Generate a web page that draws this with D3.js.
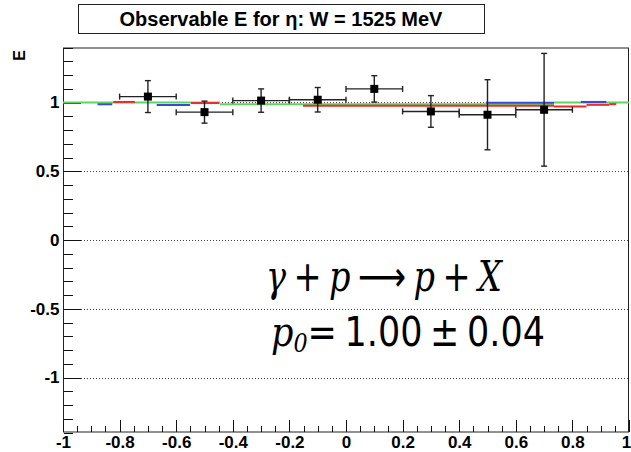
<!DOCTYPE html>
<html>
<head>
<meta charset="utf-8">
<script src="https://cdn.jsdelivr.net/npm/d3@7"></script>
<style>
  body { margin: 0; background: #fff; }
  svg { display: block; }
</style>
</head>
<body>
<svg id="chart" width="631" height="452"></svg>
<script>
// measured points (cos theta bins)
let xVals = [-0.7, -0.5, -0.3, -0.1, 0.1, 0.3, 0.5, 0.7];
let eVals = [1.043, 0.930, 1.014, 1.020, 1.099, 0.935, 0.911, 0.947];
let eErr  = [0.116, 0.080, 0.085, 0.089, 0.096, 0.115, 0.255, 0.41];
let xErr  = [0.1, 0.1, 0.1, 0.1, 0.1, 0.1, 0.1, 0.1];

// model curves as [x0, x1, E] pieces
let greenSeg = [[-1, -0.445, 1.0], [-0.445, 0.735, 0.988], [0.735, 1, 1.0]];
let redSeg = [[-0.822, -0.746, 1.004], [-0.548, -0.448, 0.996], [-0.152, 0.735, 0.977],
              [0.735, 0.85, 0.971], [0.85, 0.93, 0.983], [0.93, 0.955, 0.988]];
let blueSeg = [[-0.878, -0.826, 0.987], [-0.669, -0.551, 0.982], [0.494, 0.735, 0.998], [0.83, 0.92, 1.004]];

let xMajor = d3.range(-1, 1.0001, 0.2).map(d => +d.toFixed(2));
let xMinor = d3.range(-1, 1.0001, 0.05).map(d => +d.toFixed(2));
let yMajor = [-1, -0.5, 0, 0.5, 1];
let yMinor = d3.range(-1.4, 1.4001, 0.1).map(d => +d.toFixed(2));

let titleText = "Observable E for \u03b7: W = 1525 MeV";

let padL = 63, padR = 629, padT = 47.5, padB = 432.5;

let svg = d3.select('#chart');

let xScale = d3.scaleLinear().domain([-1, 1]).range([padL, padR]);
let yScale = d3.scaleLinear().domain([-1.4, 1.4]).range([padB, padT]);

let fmt = d => String(+d.toFixed(1));

// grid lines (dotted)
svg.append('g').selectAll('line')
    .data(yMajor)
    .enter().append('line')
    .attr('x1', padL).attr('x2', padR)
    .attr('y1', d => Math.round(yScale(d)) + 0.5)
    .attr('y2', d => Math.round(yScale(d)) + 0.5)
    .attr('stroke', '#444')
    .attr('stroke-dasharray', '1,2');

// frame
svg.append('rect')
    .attr('x', padL + 0.5).attr('y', padT + 0.5)
    .attr('width', padR - padL - 1).attr('height', padB - padT - 1)
    .attr('fill', 'none').attr('stroke', '#222');

// y axis
let yAxisMinor = d3.axisLeft(yScale).tickValues(yMinor).tickSize(-9).tickFormat('');
let yAxis = d3.axisLeft(yScale).tickValues(yMajor).tickSize(-17).tickPadding(4).tickFormat(fmt);
svg.append('g').attr('class', 'axis')
    .attr('transform', 'translate(' + (padL + 0.5) + ',0)').call(yAxisMinor);
svg.append('g').attr('class', 'axis')
    .attr('transform', 'translate(' + (padL + 0.5) + ',0)').call(yAxis);

// x axis
let xAxisMinor = d3.axisBottom(xScale).tickValues(xMinor).tickSize(-6).tickFormat('');
let xAxis = d3.axisBottom(xScale).tickValues(xMajor).tickSize(-12).tickPadding(4).tickFormat(fmt);
svg.append('g').attr('class', 'axis')
    .attr('transform', 'translate(0,' + (padB - 0.5) + ')').call(xAxisMinor);
let xg = svg.append('g').attr('class', 'axis')
    .attr('transform', 'translate(0,' + (padB - 0.5) + ')').call(xAxis);
xg.selectAll('.tick text').filter(d => d === 1).attr('dx', -3);

svg.selectAll('.axis .domain').remove();
svg.selectAll('.axis line').attr('stroke', '#111').attr('shape-rendering', 'crispEdges');
svg.selectAll('.axis text')
    .attr('fill', '#000')
    .style('font-family', '"Liberation Sans", Arial, sans-serif')
    .style('font-weight', 'bold')
    .style('font-size', '17px');

// model lines
function drawSeg(segs, color){
    svg.append('g').selectAll('line')
        .data(segs)
        .enter().append('line')
        .attr('x1', d => xScale(d[0]))
        .attr('x2', d => xScale(d[1]))
        .attr('y1', d => yScale(d[2]))
        .attr('y2', d => yScale(d[2]))
        .attr('stroke', color)
        .attr('stroke-width', 2);
}
drawSeg(greenSeg, '#5fd35f');
drawSeg(redSeg, '#ee2b2b');
drawSeg(blueSeg, '#3848dd');

// data points with error bars
let pts = xVals.map((x, i) => ({x: x, e: eVals[i], de: eErr[i], dx: xErr[i]}));
let pg = svg.append('g').attr('stroke', '#222').attr('stroke-width', 1.4);
pts.forEach(d => {
    let cx = xScale(d.x), cy = yScale(d.e);
    let x0 = xScale(d.x - d.dx), x1 = xScale(d.x + d.dx);
    let y0 = yScale(d.e - d.de), y1 = yScale(d.e + d.de);
    pg.append('line').attr('x1', x0).attr('x2', x1).attr('y1', cy).attr('y2', cy);
    pg.append('line').attr('x1', cx).attr('x2', cx).attr('y1', y0).attr('y2', y1);
    pg.append('line').attr('x1', x0).attr('x2', x0).attr('y1', cy - 3).attr('y2', cy + 3);
    pg.append('line').attr('x1', x1).attr('x2', x1).attr('y1', cy - 3).attr('y2', cy + 3);
    pg.append('line').attr('x1', cx - 3).attr('x2', cx + 3).attr('y1', y0).attr('y2', y0);
    pg.append('line').attr('x1', cx - 3).attr('x2', cx + 3).attr('y1', y1).attr('y2', y1);
});
svg.append('g').selectAll('rect')
    .data(pts)
    .enter().append('rect')
    .attr('x', d => xScale(d.x) - 4)
    .attr('y', d => yScale(d.e) - 4)
    .attr('width', 8).attr('height', 8)
    .attr('fill', '#000');

// title box
svg.append('rect')
    .attr('x', 78.5).attr('y', 4.5).attr('width', 406).attr('height', 29)
    .attr('fill', '#fff').attr('stroke', '#222');
svg.append('text')
    .attr('x', 281).attr('y', 26)
    .attr('text-anchor', 'middle')
    .style('font-family', '"Liberation Sans", Arial, sans-serif')
    .style('font-weight', 'bold')
    .style('font-size', '20px')
    .text(titleText);

// y title
svg.append('text')
    .attr('transform', 'translate(25,50) rotate(-90)')
    .attr('text-anchor', 'end')
    .style('font-family', '"Liberation Sans", Arial, sans-serif')
    .style('font-weight', 'bold')
    .style('font-size', '16px')
    .text('E');

// reaction + fit result
let serifIt = '"DejaVu Serif", serif';
let big = svg.append('g').style('font-family', '"DejaVu Sans", sans-serif');
let t1 = big.append('text').attr('x', 266).attr('y', 291).style('font-size', '42px')
    .style('word-spacing', '-4px')
    .attr('textLength', 236).attr('lengthAdjust', 'spacingAndGlyphs');
[['\u03b3', true], [' + ', false], ['p', true], [' \u27f6 ', false], ['p', true], [' + ', false], ['X', true]]
    .forEach(p => {
        let ts = t1.append('tspan').text(p[0]);
        if (p[1]) ts.style('font-style', 'italic').style('font-family', serifIt);
    });

let t2 = big.append('text').attr('x', 271).attr('y', 346).style('font-size', '41px')
    .style('word-spacing', '-4px')
    .attr('textLength', 274).attr('lengthAdjust', 'spacingAndGlyphs');
t2.append('tspan').style('font-style', 'italic').style('font-family', serifIt).text('p');
t2.append('tspan').style('font-style', 'italic').style('font-family', serifIt)
    .style('font-size', '26px').attr('dy', 6).text('0');
t2.append('tspan').attr('dy', -6).text('= 1.00 \u00b1 0.04');
</script>
</body>
</html>
